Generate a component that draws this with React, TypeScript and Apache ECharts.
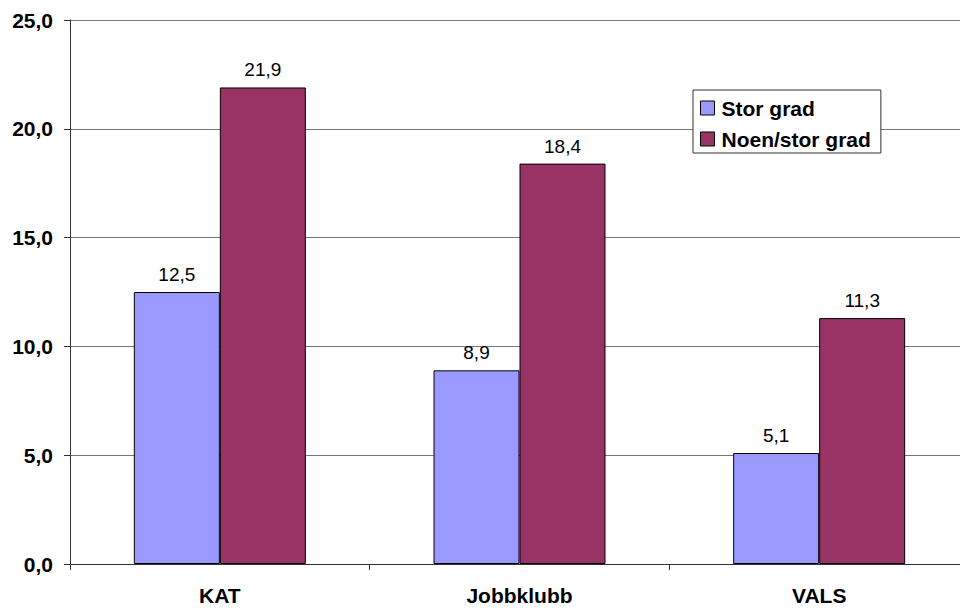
import React, { useEffect, useRef } from "react";
import * as echarts from "echarts";

const categories = ["KAT", "Jobbklubb", "VALS"];
const storGrad = [12.5, 8.9, 5.1];
const noenStorGrad = [21.9, 18.4, 11.3];
const seriesNames = ["Stor grad", "Noen/stor grad"];

const fmt = (v: number) => v.toFixed(1).replace(".", ",");
const FONT = "'Liberation Sans', Arial, sans-serif";

export default function App() {
  const ref = useRef<HTMLDivElement>(null);

  useEffect(() => {
    if (!ref.current) return;
    const chart = echarts.init(ref.current, null, { renderer: "svg" });
    const barStyle = (color: string) => ({
      color,
      borderColor: "#000",
      borderWidth: 1,
    });
    const labelStyle = {
      show: true,
      position: "top" as const,
      distance: 8,
      formatter: (p: any) => fmt(p.value),
      fontFamily: FONT,
      fontSize: 19,
      color: "#000",
    };
    chart.setOption({
      animation: false,
      backgroundColor: "#fff",
      textStyle: { fontFamily: FONT },
      grid: { left: 70, right: 1, top: 20, bottom: 46 },
      legend: {
        orient: "vertical",
        left: 693,
        top: 90,
        padding: [7, 10, 3, 7],
        itemGap: 9,
        itemWidth: 14,
        itemHeight: 14,
        borderColor: "#333",
        borderWidth: 1,
        backgroundColor: "#fff",
        icon: "rect",
        itemStyle: { borderColor: "#000", borderWidth: 1 },
        textStyle: {
          fontFamily: FONT,
          fontSize: 21,
          fontWeight: "bold",
          color: "#000",
          lineHeight: 22,
          padding: [0, 0, 0, 2],
        },
        data: seriesNames,
      },
      xAxis: {
        type: "category",
        data: categories,
        axisLine: { lineStyle: { color: "#333", width: 1 } },
        axisTick: { show: true, length: 6, lineStyle: { color: "#333" } },
        axisLabel: { fontFamily: FONT, fontSize: 21, fontWeight: "bold", color: "#000", margin: 21 },
      },
      yAxis: {
        type: "value",
        min: 0,
        max: 25,
        interval: 5,
        axisLine: { show: true, lineStyle: { color: "#333", width: 1 } },
        axisTick: { show: true, length: 6, lineStyle: { color: "#333" } },
        splitLine: { lineStyle: { color: "#777", width: 1 } },
        axisLabel: {
          formatter: (v: number) => fmt(v),
          fontFamily: FONT,
          fontSize: 21,
          fontWeight: "bold",
          color: "#000",
          margin: 17,
        },
      },
      series: [
        {
          name: seriesNames[0],
          type: "bar",
          data: storGrad,
          barWidth: 86,
          barGap: "0%",
          itemStyle: barStyle("#9999FF"),
          label: labelStyle,
        },
        {
          name: seriesNames[1],
          type: "bar",
          data: noenStorGrad,
          barWidth: 86,
          barGap: "0%",
          itemStyle: barStyle("#993366"),
          label: labelStyle,
        },
      ],
    });
    return () => chart.dispose();
  }, []);

  return (
    <div
      ref={ref}
      style={{ position: "absolute", left: 0, top: 0, width: 970, height: 610 }}
    />
  );
}
